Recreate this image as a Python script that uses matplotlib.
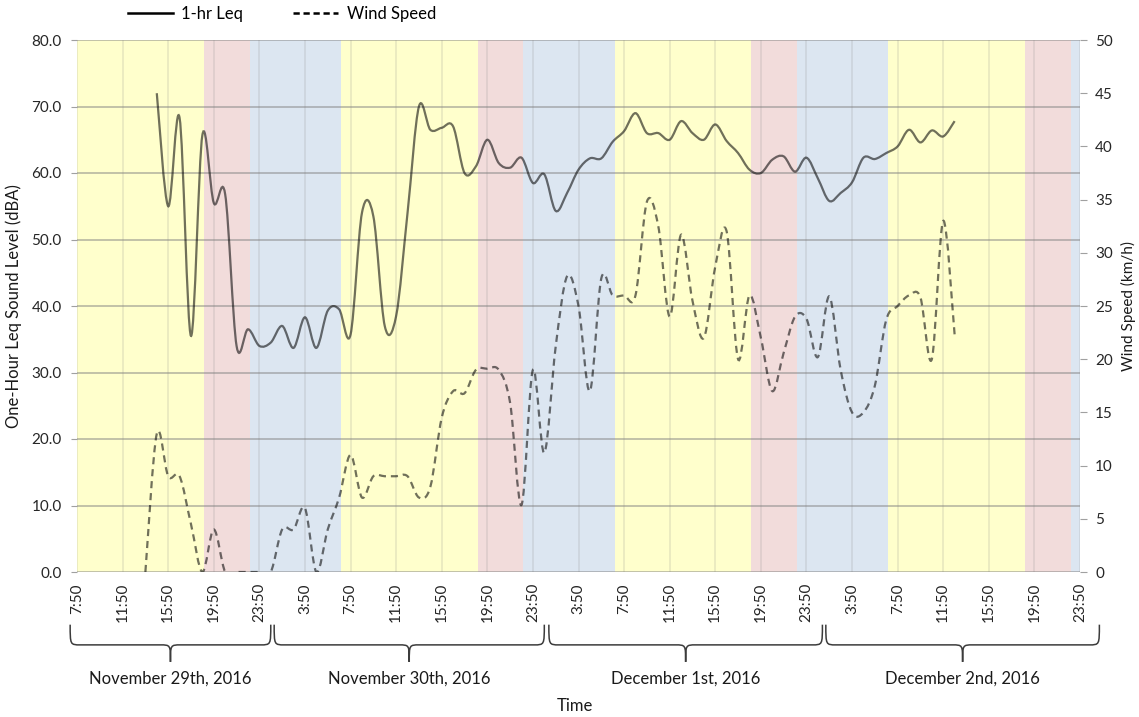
import matplotlib
matplotlib.use("Agg")
import matplotlib.pyplot as plt
import numpy as np
from matplotlib.path import Path
from matplotlib.patches import PathPatch

plt.rcParams['font.family'] = ['Lato', 'DejaVu Sans']

# hours counted from 7:50 on November 29th, 2016 (hourly readings)
leq_start = 7
leq = [72.0, 55.0, 68.3, 35.5, 65.7, 55.5, 56.8, 34.0, 36.5, 34.0,
       34.5, 37.0, 33.7, 38.3, 33.7, 39.3, 39.5, 35.7, 54.0, 53.5,
       37.0, 38.5, 54.0, 70.0, 66.5, 66.8, 67.0, 60.0, 61.0, 65.0,
       61.5, 60.8, 62.3, 58.5, 59.8, 54.3, 57.0, 60.5, 62.2, 62.2,
       64.7, 66.3, 69.0, 66.0, 66.0, 65.0, 67.8, 66.0, 65.0, 67.3,
       64.8, 63.0, 60.5, 60.0, 62.0, 62.5, 60.2, 62.3, 59.2, 55.8,
       57.0, 58.6, 62.3, 62.1, 63.0, 64.0, 66.5, 64.6, 66.4, 65.5, 67.8]

wind_start = 6
wind = [0.0, 13.0, 9.0, 9.0, 4.5, 0.0, 4.0, 0.0, 0.0, 0.0,
        0.0, 0.0, 4.0, 4.0, 6.0, 0.0, 4.0, 7.0, 11.0, 7.0,
        9.0, 9.0, 9.0, 9.0, 7.0, 8.0, 14.5, 17.0, 16.8, 19.0,
        19.1, 19.0, 15.9, 6.3, 19.0, 11.2, 21.2, 27.8, 25.0, 17.0,
        27.6, 26.0, 26.0, 26.0, 34.8, 32.5, 24.0, 31.7, 25.5, 22.0,
        28.7, 32.0, 20.0, 26.0, 22.0, 17.0, 20.6, 24.0, 23.8, 20.2,
        25.9, 19.0, 15.0, 15.0, 17.5, 23.7, 25.0, 26.0, 25.8, 20.0,
        33.0, 22.3]

tick_labels = ['7:50', '11:50', '15:50', '19:50', '23:50'] + \
              ['3:50', '7:50', '11:50', '15:50', '19:50', '23:50'] * 3
dates = ['November 29th, 2016', 'November 30th, 2016',
         'December 1st, 2016', 'December 2nd, 2016']
brace_spans = [(-0.6, 17.0), (17.3, 41.0), (41.4, 65.4), (65.7, 89.7)]

# clock-hour periods: day, evening, night
periods = [(7, 19, '#FFFFCC'), (19, 23, '#F2DCDB'), (23, 31, '#DCE6F1')]
t0 = 7 + 50 / 60.0
span_hours = 88


def smooth_path(x, y):
    # bezier path through the points, like a spreadsheet "smoothed line"
    pts = np.column_stack([np.asarray(x, float), np.asarray(y, float)])
    tang = np.zeros_like(pts)
    tang[1:-1] = (pts[2:] - pts[:-2]) / 6
    tang[0] = (pts[1] - pts[0]) / 6
    tang[-1] = (pts[-1] - pts[-2]) / 6
    verts = [pts[0]]
    codes = [Path.MOVETO]
    for i in range(len(pts) - 1):
        verts += [pts[i] + tang[i], pts[i + 1] - tang[i + 1], pts[i + 1]]
        codes += [Path.CURVE4] * 3
    return Path(verts, codes)


def brace(ax, x0, x1, y_top, y_mid, y_tip, r=0.9):
    xm = (x0 + x1) / 2
    verts = [(x0, y_top), (x0, y_mid), (x0, y_mid), (x0 + r, y_mid),
             (xm - r, y_mid),
             (xm, y_mid), (xm, y_mid), (xm, y_tip),
             (xm, y_mid), (xm, y_mid), (xm + r, y_mid),
             (x1 - r, y_mid),
             (x1, y_mid), (x1, y_mid), (x1, y_top)]
    codes = [Path.MOVETO] + [Path.CURVE4] * 3 + [Path.LINETO] + \
            [Path.CURVE4] * 6 + [Path.LINETO] + [Path.CURVE4] * 3
    p = PathPatch(Path(verts, codes), fill=False, edgecolor='#3c3c3c', lw=1.1,
                  transform=ax.get_xaxis_transform(), clip_on=False)
    ax.add_patch(p)


fig = plt.figure(figsize=(11.39, 7.17), dpi=100)
ax = fig.add_axes([77 / 1139, 1 - 572 / 717, 1003 / 1139, 532 / 717])
ax2 = ax.twinx()

for d in range(4):
    for start, end, col in periods:
        ax.axvspan(start + 24 * d - t0, end + 24 * d - t0, color=col, lw=0, zorder=0)

ax.set_xlim(0, span_hours)
ax.set_ylim(0, 80)
ax2.set_ylim(0, 50)

ax.set_yticks(np.arange(0, 81, 10))
ax.set_yticklabels(['%.1f' % v for v in np.arange(0, 81, 10)])
ax2.set_yticks(np.arange(0, 51, 5))
ax.set_xticks(np.arange(0, span_hours + 1, 4))
ax.set_xticklabels(tick_labels, rotation=90, va='top', ha='center')

ax.grid(axis='y', color='#7f7f7f', alpha=0.6, lw=1.1)
ax.grid(axis='x', color='#8a8a8a', alpha=0.22, lw=1.1)
for a in (ax, ax2):
    for s in a.spines.values():
        s.set_visible(False)
ax.tick_params(axis='y', length=4, color='#a0a0a0', pad=7, labelsize=11, labelcolor='#262626')
ax.tick_params(axis='x', length=0, pad=8, labelsize=11, labelcolor='#262626')
ax2.tick_params(axis='y', length=5, color='#a0a0a0', pad=6, labelsize=11, labelcolor='#262626')

leq_x = np.arange(len(leq)) + leq_start
wind_x = np.arange(len(wind)) + wind_start
ax.add_patch(PathPatch(smooth_path(leq_x, leq), fill=False, edgecolor='black',
                       alpha=0.56, lw=1.6, zorder=3))
ax2.add_patch(PathPatch(smooth_path(wind_x, wind), fill=False, edgecolor='black',
                        alpha=0.56, lw=1.6, ls=(0, (3.2, 2.2)), zorder=3))

for (b0, b1), label in zip(brace_spans, dates):
    brace(ax, b0, b1, -0.099, -0.137, -0.169)
    ax.text((b0 + b1) / 2, -0.2, label, transform=ax.get_xaxis_transform(),
            ha='center', va='center', fontsize=12, color='#1a1a1a')

fig.text(575 / 1139, 1 - 706 / 717, 'Time', ha='center', va='center', fontsize=12, color='#1a1a1a')
fig.text(14 / 1139, 1 - 306 / 717, 'One-Hour Leq Sound Level (dBA)', rotation=90,
         ha='center', va='center', fontsize=12, color='#1a1a1a')
fig.text(1128 / 1139, 1 - 306 / 717, 'Wind Speed (km/h)', rotation=90,
         ha='center', va='center', fontsize=11, color='#1a1a1a')

h1, = ax.plot([], [], color='black', lw=1.8)
h2, = ax.plot([], [], color='black', lw=1.8, ls=(0, (2.5, 1.5)))
fig.legend([h1, h2], ['1-hr Leq', 'Wind Speed'], ncol=2, loc='center',
           bbox_to_anchor=(282 / 1139, 1 - 14 / 717), frameon=False, fontsize=12,
           handlelength=2.7, handletextpad=0.5, columnspacing=3.0)

fig.savefig('out.png', dpi=100)
